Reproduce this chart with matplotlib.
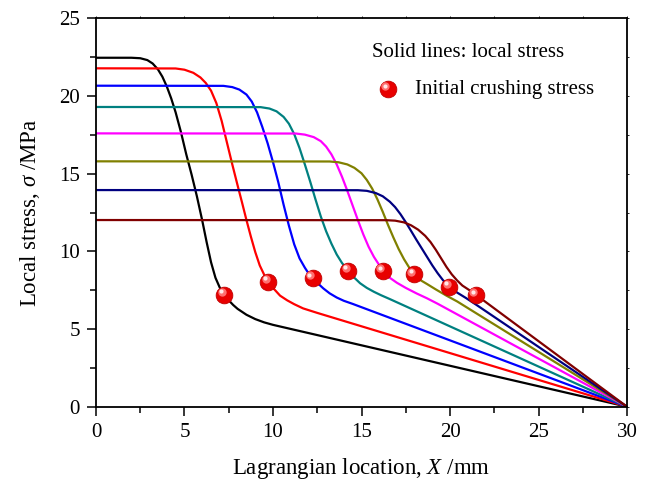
import numpy as np
import matplotlib
matplotlib.use("Agg")
import matplotlib.pyplot as plt
from matplotlib.transforms import offset_copy

plt.rcParams['font.family'] = ['Liberation Serif', 'DejaVu Serif']
plt.rcParams['mathtext.fontset'] = 'custom'
plt.rcParams['mathtext.rm'] = 'Liberation Serif'
plt.rcParams['mathtext.it'] = 'Liberation Serif:italic'

# local stress profiles along the specimen (X in mm, stress in MPa)
x_black = [0, 2.0, 2.5, 2.9, 3.2, 3.5, 3.75, 4.0, 4.25, 4.5, 4.8, 5.1, 5.4,
           5.7, 6.0, 6.25, 6.5, 6.75, 7.0, 7.25, 7.5, 7.75, 8.0, 8.5, 9.0,
           9.5, 10.0, 30]
y_black = [22.47, 22.47, 22.44, 22.32, 22.1, 21.72, 21.25, 20.62, 19.85,
           18.95, 17.68, 16.25, 14.95, 13.55, 12.0, 10.6, 9.3, 8.3, 7.65,
           7.22, 6.85, 6.55, 6.3, 5.92, 5.64, 5.43, 5.27, 0]

x_red = [0, 4.5, 5.0, 5.5, 5.9, 6.2, 6.5, 6.8, 7.1, 7.4, 7.7, 8.0, 8.25,
         8.5, 8.75, 9.0, 9.25, 9.5, 9.74, 10.0, 10.4, 10.8, 11.2, 11.7,
         12.5, 30]
y_red = [21.79, 21.78, 21.7, 21.5, 21.2, 20.85, 20.35, 19.55, 18.4, 17.0,
         15.6, 14.25, 13.15, 12.02, 10.95, 9.95, 9.1, 8.5, 8.05, 7.65, 7.15,
         6.85, 6.6, 6.33, 6.04, 0]

x_blue = [0, 7.2, 7.7, 8.1, 8.5, 8.8, 9.1, 9.4, 9.7, 10.0, 10.3, 10.6, 10.9,
          11.2, 11.5, 11.8, 12.0, 12.24, 12.5, 12.84, 13.2, 13.6, 14.0, 14.5,
          30]
y_blue = [20.67, 20.66, 20.58, 20.42, 20.1, 19.65, 18.95, 18.0, 16.95, 15.75,
          14.45, 13.0, 11.65, 10.45, 9.55, 8.95, 8.6, 8.27, 7.98, 7.62, 7.3,
          7.03, 6.82, 6.62, 0]

x_teal = [0, 9.3, 9.8, 10.2, 10.6, 10.9, 11.2, 11.5, 11.8, 12.1, 12.4, 12.7,
          13.0, 13.3, 13.6, 13.9, 14.26, 14.6, 14.92, 15.3, 15.7, 16.1, 16.6,
          30]
y_teal = [19.3, 19.29, 19.2, 19.02, 18.66, 18.22, 17.55, 16.65, 15.6, 14.5,
          13.35, 12.25, 11.3, 10.5, 9.8, 9.25, 8.75, 8.3, 7.95, 7.65, 7.4,
          7.18, 6.93, 0]

x_mag = [0, 11.3, 11.8, 12.3, 12.7, 13.0, 13.3, 13.6, 13.9, 14.2, 14.5,
         14.8, 15.1, 15.4, 15.7, 16.0, 16.23, 16.6, 17.0, 17.5, 18.1, 18.7,
         19.3, 30]
y_mag = [17.6, 17.59, 17.52, 17.36, 17.1, 16.75, 16.25, 15.6, 14.8, 13.9,
         12.95, 12.0, 11.1, 10.3, 9.65, 9.12, 8.72, 8.3, 7.98, 7.65, 7.3,
         6.98, 6.63, 0]

x_olive = [0, 13.2, 13.7, 14.2, 14.6, 15.0, 15.3, 15.6, 15.9, 16.2, 16.5,
           16.8, 17.1, 17.4, 17.7, 17.97, 18.3, 18.7, 19.2, 19.8, 20.4, 30]
y_olive = [15.8, 15.79, 15.74, 15.6, 15.38, 15.03, 14.6, 14.05, 13.35, 12.55,
           11.7, 10.9, 10.15, 9.5, 8.95, 8.52, 8.17, 7.9, 7.55, 7.15, 6.78, 0]

x_navy = [0, 14.8, 15.3, 15.8, 16.2, 16.6, 16.9, 17.2, 17.5, 17.8, 18.1,
          18.4, 18.7, 19.0, 19.3, 19.6, 19.96, 20.4, 20.9, 21.5, 30]
y_navy = [13.95, 13.94, 13.9, 13.76, 13.55, 13.2, 12.85, 12.4, 11.88, 11.32,
          10.75, 10.2, 9.65, 9.1, 8.6, 8.15, 7.72, 7.35, 7.0, 6.55, 0]

x_maroon = [0, 16.4, 16.9, 17.4, 17.8, 18.2, 18.6, 18.9, 19.2, 19.5, 19.8,
            20.1, 20.4, 20.7, 21.1, 21.47, 30]
y_maroon = [12.02, 12.01, 11.98, 11.87, 11.68, 11.4, 11.0, 10.6, 10.1, 9.55,
            9.0, 8.52, 8.13, 7.8, 7.5, 7.2, 0]

# initial crushing stress points
x_crush = [7.25, 9.74, 12.24, 14.26, 16.23, 17.97, 19.96, 21.47]
y_crush = [7.22, 8.05, 8.27, 8.75, 8.72, 8.52, 7.72, 7.2]

curves = [(x_black, y_black, '#000000'), (x_red, y_red, '#ff0000'),
          (x_blue, y_blue, '#0000ff'), (x_teal, y_teal, '#008080'),
          (x_mag, y_mag, '#ff00ff'), (x_olive, y_olive, '#808000'),
          (x_navy, y_navy, '#000080'), (x_maroon, y_maroon, '#800000')]


def draw_balls(ax, x, y, transform=None):
    """draw shiny red balls"""
    if transform is None:
        transform = ax.transData
    ax.plot(x, y, 'o', ms=12, color='#e80000', mec='#c00000', mew=0.6,
            transform=transform, zorder=5, clip_on=False)
    glow = offset_copy(transform, fig=ax.figure, x=-2.0, y=2.0, units='points')
    ax.plot(x, y, 'o', ms=6, color='#ff7070', mew=0, transform=glow,
            zorder=6, clip_on=False)
    spot = offset_copy(transform, fig=ax.figure, x=-2.4, y=2.4, units='points')
    ax.plot(x, y, 'o', ms=3, color='#ffe8e8', mew=0, transform=spot,
            zorder=7, clip_on=False)


fig = plt.figure(figsize=(6.46, 4.86), dpi=100)
ax = fig.add_axes([0.1486, 0.1632, 0.8220, 0.7988])

for xs, ys, c in curves:
    ax.plot(xs, ys, color=c, lw=1.6, solid_joinstyle='round')

draw_balls(ax, x_crush, y_crush)

ax.set_xlim(0, 30)
ax.set_ylim(0, 25)
ax.set_xticks(np.arange(0, 31, 5))
ax.set_yticks(np.arange(0, 26, 5))
ax.set_xticks(np.arange(2.5, 30, 5), minor=True)
ax.set_yticks(np.arange(2.5, 25, 5), minor=True)
ax.tick_params(which='major', direction='out', length=6.5, width=1.1,
               labelsize=15, top=True, right=True, pad=5)
ax.tick_params(which='minor', direction='out', length=4, width=1.1,
               top=True, right=True)
for s in ax.spines.values():
    s.set_linewidth(1.3)
# short marks on the top and right frame
for t in ax.xaxis.get_ticklines()[1::2] + ax.yaxis.get_ticklines()[1::2]:
    t.set_markersize(1.5)
    t.set_markeredgewidth(0.6)
for t in ax.xaxis.get_minorticklines()[1::2] + ax.yaxis.get_minorticklines()[1::2]:
    t.set_markersize(1.5)
    t.set_markeredgewidth(0.6)

ax.set_xlabel('Lagrangian location, $X$ /mm', fontsize=16.5, labelpad=10)
ax.set_ylabel('Local stress, $\\sigma$ /MPa', fontsize=16.5, labelpad=12)

# legend notes
ax.text(0.52, 0.912, 'Solid lines: local stress', transform=ax.transAxes,
        fontsize=15, va='center', ha='left')
draw_balls(ax, [0.55], [0.818], transform=ax.transAxes)
ax.text(0.601, 0.818, 'Initial crushing stress', transform=ax.transAxes,
        fontsize=15, va='center', ha='left')

fig.savefig('out.png', dpi=100)
